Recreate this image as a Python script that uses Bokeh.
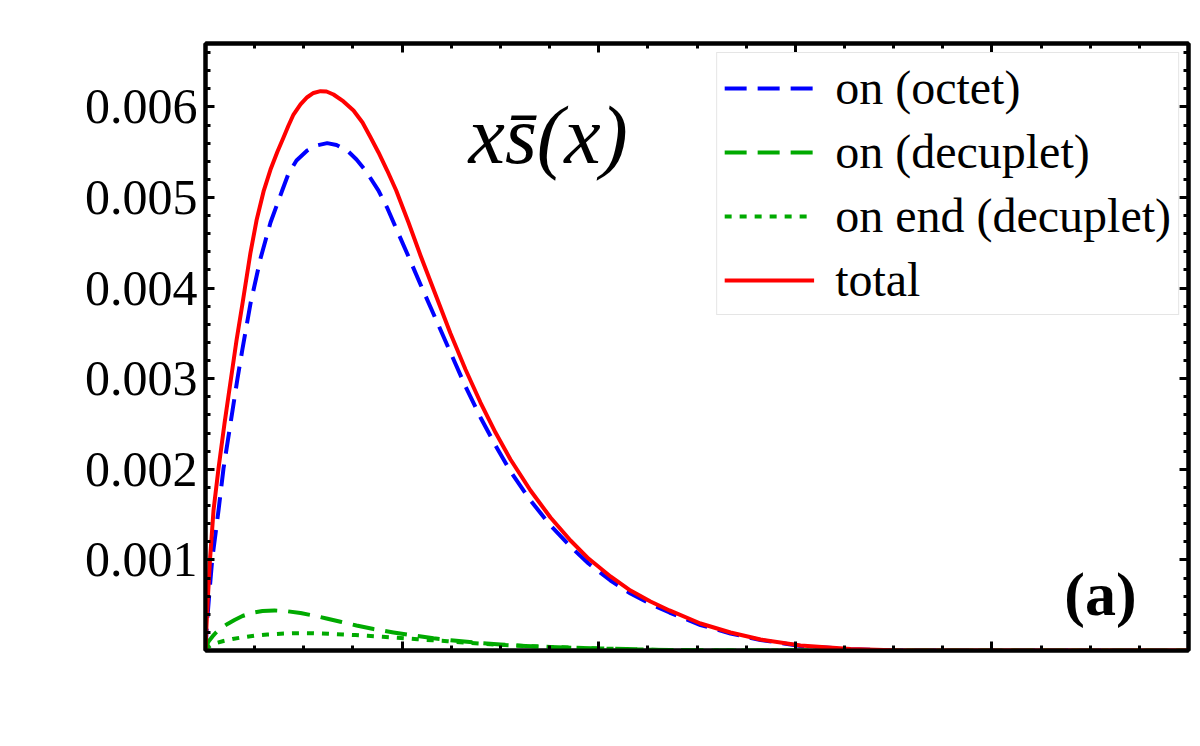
from bokeh.plotting import figure
from bokeh.models import Range1d, LinearAxis, FixedTicker, Label, CustomJSTickFormatter
from bokeh.embed import file_html
from bokeh.resources import INLINE

# ---- data ----
x_total = [0, 0.000509, 0.001272, 0.002289, 0.004069, 0.006612, 0.009664, 0.012971, 0.015768, 0.018820,
           0.022889, 0.025941, 0.029654, 0.033062, 0.036623, 0.039674, 0.042218, 0.044761, 0.048321, 0.051729,
           0.054934, 0.058494, 0.061546, 0.065107, 0.070193, 0.075280, 0.079858, 0.083927, 0.087996, 0.092421,
           0.096999, 0.103255, 0.109359, 0.116989, 0.124618, 0.132248, 0.139878, 0.147508, 0.155137, 0.165310,
           0.175483, 0.185656, 0.194812, 0.206002, 0.216175, 0.226348, 0.236012, 0.251780, 0.267040, 0.282299,
           0.302645, 0.328077, 0.353510, 0.5]
y_total = [0, 0.000276, 0.000607, 0.001004, 0.001545, 0.002009, 0.002506, 0.003002, 0.003422, 0.003830,
           0.004393, 0.004746, 0.005077, 0.005309, 0.005508, 0.005662, 0.005795, 0.005916, 0.006027, 0.006107,
           0.006154, 0.006174, 0.006170, 0.006137, 0.006060, 0.005960, 0.005828, 0.005666, 0.005497, 0.005298,
           0.005077, 0.004724, 0.004360, 0.003929, 0.003499, 0.003102, 0.002737, 0.002406, 0.002108, 0.001766,
           0.001468, 0.001214, 0.001015, 0.000817, 0.000662, 0.000541, 0.000442, 0.000298, 0.000199, 0.000121,
           0.000055, 0.000017, 0.0, 0.0]

x_octet = [0, 0.000763, 0.001780, 0.003408, 0.006612, 0.009156, 0.012716, 0.016277, 0.018667, 0.022889,
           0.027976, 0.033062, 0.039013, 0.042218, 0.046287, 0.051729, 0.056460, 0.061902, 0.066633, 0.072075,
           0.076806, 0.081384, 0.087996, 0.092574, 0.096999, 0.103255, 0.109359, 0.116989, 0.124618, 0.132248,
           0.139878, 0.147508, 0.155137, 0.165310, 0.175483, 0.185656, 0.194812, 0.206002, 0.216175, 0.226348,
           0.236012, 0.251780, 0.267040, 0.282299, 0.302645, 0.328077, 0.353510, 0.5]
y_octet = [0, 0.000309, 0.000585, 0.001004, 0.001545, 0.002009, 0.002506, 0.003002, 0.003311, 0.003830,
           0.004327, 0.004724, 0.005077, 0.005265, 0.005409, 0.005519, 0.005574, 0.005600, 0.005580, 0.005519,
           0.005420, 0.005298, 0.005077, 0.004879, 0.004658, 0.004349, 0.004040, 0.003665, 0.003289, 0.002914,
           0.002572, 0.002263, 0.001976, 0.001656, 0.001380, 0.001148, 0.000960, 0.000773, 0.000629, 0.000513,
           0.000419, 0.000281, 0.000188, 0.000116, 0.000050, 0.000014, 0.0, 0.0]

x_decuplet = [0, 0.000509, 0.001526, 0.003561, 0.005595, 0.008138, 0.011190, 0.014751, 0.018820, 0.023398,
              0.028993, 0.035097, 0.041709, 0.048321, 0.054934, 0.061546, 0.068667, 0.076806, 0.085453, 0.095626,
              0.105799, 0.115972, 0.126144, 0.137843, 0.150051, 0.162767, 0.175483, 0.188199, 0.200916, 0.226348,
              0.261953, 0.5]
y_decuplet = [0, 0.000055, 0.000099, 0.000155, 0.000204, 0.000248, 0.000293, 0.000337, 0.000381, 0.000414,
              0.000436, 0.000442, 0.000433, 0.000413, 0.000386, 0.000353, 0.000317, 0.000276, 0.000237, 0.000199,
              0.000166, 0.000135, 0.000110, 0.000086, 0.000066, 0.000051, 0.000039, 0.000029, 0.000022, 0.000009,
              0.0, 0.0]

x_end = [0, 0.001017, 0.002543, 0.005595, 0.009156, 0.013733, 0.019329, 0.025432, 0.031536, 0.038149,
         0.044761, 0.049847, 0.054934, 0.062564, 0.070193, 0.076297, 0.082401, 0.090031, 0.097660, 0.107833,
         0.115463, 0.123093, 0.133774, 0.144964, 0.160224, 0.175483, 0.188199, 0.200916, 0.226348, 0.251780,
         0.5]
y_end = [0, 0.000033, 0.000055, 0.000083, 0.000105, 0.000127, 0.000147, 0.000166, 0.000177, 0.000185,
         0.000190, 0.000191, 0.000190, 0.000184, 0.000177, 0.000170, 0.000162, 0.000152, 0.000141, 0.000124,
         0.000113, 0.000103, 0.000084, 0.000068, 0.000052, 0.000039, 0.000030, 0.000022, 0.000008, 0.0,
         0.0]

series_labels = ["on (octet)", "on (decuplet)", "on end (decuplet)", "total"]
y_ticks = [0.001, 0.002, 0.003, 0.004, 0.005, 0.006]
x_ticks = [0.0, 0.1, 0.2, 0.3, 0.4, 0.5]
y_minor = [round(i * 0.0002, 6) for i in range(34)]
x_minor = [round(i * 0.025, 4) for i in range(21)]

BLUE = "#0000ff"
GREEN = "#00aa00"
RED = "#ff0000"
SERIF = "Liberation Serif"

p = figure(width=1200, height=746, output_backend="svg", toolbar_location=None,
           x_range=Range1d(0, 0.5), y_range=Range1d(0, 0.0067),
           min_border_left=205, min_border_right=12, min_border_top=43, min_border_bottom=96)
p.grid.visible = False
p.outline_line_color = "black"
p.outline_line_width = 4
p.background_fill_color = "white"
p.border_fill_color = "white"

for xs, ys, col, dash, lab in [(x_octet, y_octet, BLUE, "22 11", series_labels[0]),
                               (x_decuplet, y_decuplet, GREEN, "22 11", series_labels[1]),
                               (x_end, y_end, GREEN, "7 8", series_labels[2])]:
    p.line(xs, ys, color=col, line_width=4, line_dash=dash, line_join="round", legend_label=lab)
p.line(x_total, y_total, color=RED, line_width=4, line_join="round", legend_label=series_labels[3])


def style(ax, show_labels):
    ax.axis_line_width = 4
    ax.axis_line_color = "black"
    ax.major_tick_in = 9
    ax.major_tick_out = 0
    ax.minor_tick_in = 5
    ax.minor_tick_out = 0
    ax.major_tick_line_width = 3
    ax.minor_tick_line_width = 3
    ax.major_tick_line_color = "black"
    ax.minor_tick_line_color = "black"
    if show_labels:
        ax.major_label_text_font = SERIF
        ax.major_label_text_font_size = "50px"
        ax.major_label_text_color = "black"
        ax.major_label_standoff = 8
    else:
        ax.formatter = CustomJSTickFormatter(code="return ''")
        ax.major_label_text_font_size = "0px"
        ax.major_label_standoff = 0


yl = p.yaxis[0]
yl.ticker = FixedTicker(ticks=y_ticks, minor_ticks=y_minor)
yl.formatter = CustomJSTickFormatter(code="return tick.toFixed(3)")
style(yl, True)

xb = p.xaxis[0]
xb.ticker = FixedTicker(ticks=x_ticks, minor_ticks=x_minor)
style(xb, False)

xt = LinearAxis(ticker=FixedTicker(ticks=x_ticks, minor_ticks=x_minor))
style(xt, False)
p.add_layout(xt, "above")

yr = LinearAxis(ticker=FixedTicker(ticks=y_ticks, minor_ticks=y_minor))
style(yr, False)
p.add_layout(yr, "right")

lg = p.legend[0]
lg.location = "top_right"
lg.margin = 9
lg.padding = 7
lg.spacing = 9
lg.glyph_width = 90
lg.glyph_height = 54
lg.label_height = 54
lg.label_standoff = 21
lg.label_text_font = SERIF
lg.label_text_font_size = "48px"
lg.label_text_color = "black"
lg.border_line_color = "#cccccc"
lg.border_line_width = 1.5
lg.background_fill_color = "white"
lg.background_fill_alpha = 1.0

title = Label(x=0.1338, y=0.00568, text="xs\u0304(x)", text_font=SERIF, text_font_style="italic",
              text_font_size="82px", text_color="black", text_baseline="alphabetic")
p.add_layout(title)

panel = Label(x=0.4736, y=0.000629, text="(a)", text_font=SERIF, text_font_style="bold",
              text_font_size="62px", text_color="black", text_align="right", text_baseline="alphabetic")
p.add_layout(panel)

open("out.html", "w").write(file_html(p, INLINE))
